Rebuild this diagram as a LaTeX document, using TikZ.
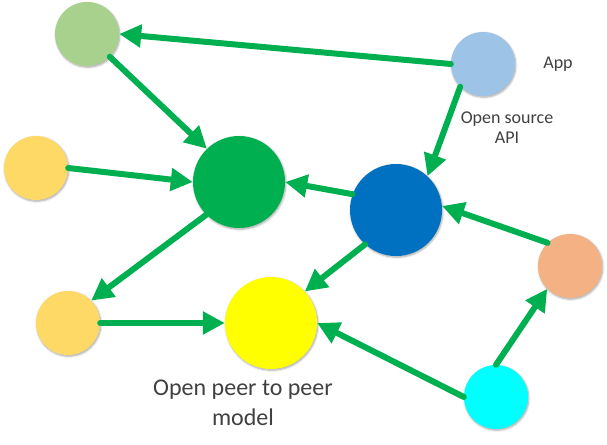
\documentclass[tikz,border=0pt]{standalone}
\usepackage{fontspec}
\setmainfont{Carlito}
\usetikzlibrary{arrows.meta,shadows.blur}
\definecolor{cA}{HTML}{A9D18E}
\definecolor{cB}{HTML}{9DC3E6}
\definecolor{cC}{HTML}{FFD966}
\definecolor{cD}{HTML}{00B050}
\definecolor{cE}{HTML}{0070C0}
\definecolor{cF}{HTML}{F4B183}
\definecolor{cH}{HTML}{FFFF00}
\definecolor{cI}{HTML}{00FFFF}
\definecolor{arrowgreen}{HTML}{00B050}
\definecolor{txt}{HTML}{404040}
\definecolor{shad}{HTML}{9DB9DE}
\tikzset{
  dot/.style={circle,inner sep=0pt,draw=none,minimum size=64pt,
    blur shadow={shadow xshift=0.8pt,shadow yshift=-1.2pt,shadow blur radius=2pt,shadow opacity=35,shadow blur steps=6}},
  bigdot/.style={dot,minimum size=92pt},
  link/.style={draw=arrowgreen,line width=6pt,line cap=round,
    -{Triangle[length=22pt,width=22pt]}},
  lbl/.style={text=txt,align=center,font=\fontsize{18}{20}\selectfont,inner sep=0pt},
  biglbl/.style={text=txt,align=center,font=\fontsize{24}{30}\selectfont,inner sep=0pt}
}
\begin{document}
\begin{tikzpicture}[x=1pt,y=-1pt]
\useasboundingbox (0,0) rectangle (607,444);
\node[dot,fill=cA] (A) at (87,34) {};
\node[dot,fill=cB] (B) at (483,64) {};
\node[dot,fill=cC] (C) at (36,168) {};
\node[bigdot,fill=cD] (D) at (239,182) {};
\node[bigdot,fill=cE] (E) at (396,210) {};
\node[dot,fill=cF] (F) at (570,266) {};
\node[dot,fill=cC] (G) at (68,323) {};
\node[bigdot,fill=cH] (H) at (271,323) {};
\node[dot,fill=cI] (I) at (496,397) {};

\node[lbl] (app) at (558,64) {App};
\node[lbl] (api) at (507,128) {Open source\\API};
\node[biglbl] (p2p) at (243,403) {Open peer to peer\\model};

\draw[link] (B.180) -- (A.0);
\draw[link] (A.-45) -- (D.134);
\draw[link] (C.0) -- (D.180);
\draw[link] (B.225) -- (E.47);
\draw[link] (E.160) -- (D.0);
\draw[link] (F.134) -- (E.5);
\draw[link] (D.225) -- (G.44);
\draw[link] (G.0) -- (H.180);
\draw[link] (E.228) -- (H.43);
\draw[link] (I.180) -- (H.0);
\draw[link] (I.90) -- (F.225);
\end{tikzpicture}
\end{document}
